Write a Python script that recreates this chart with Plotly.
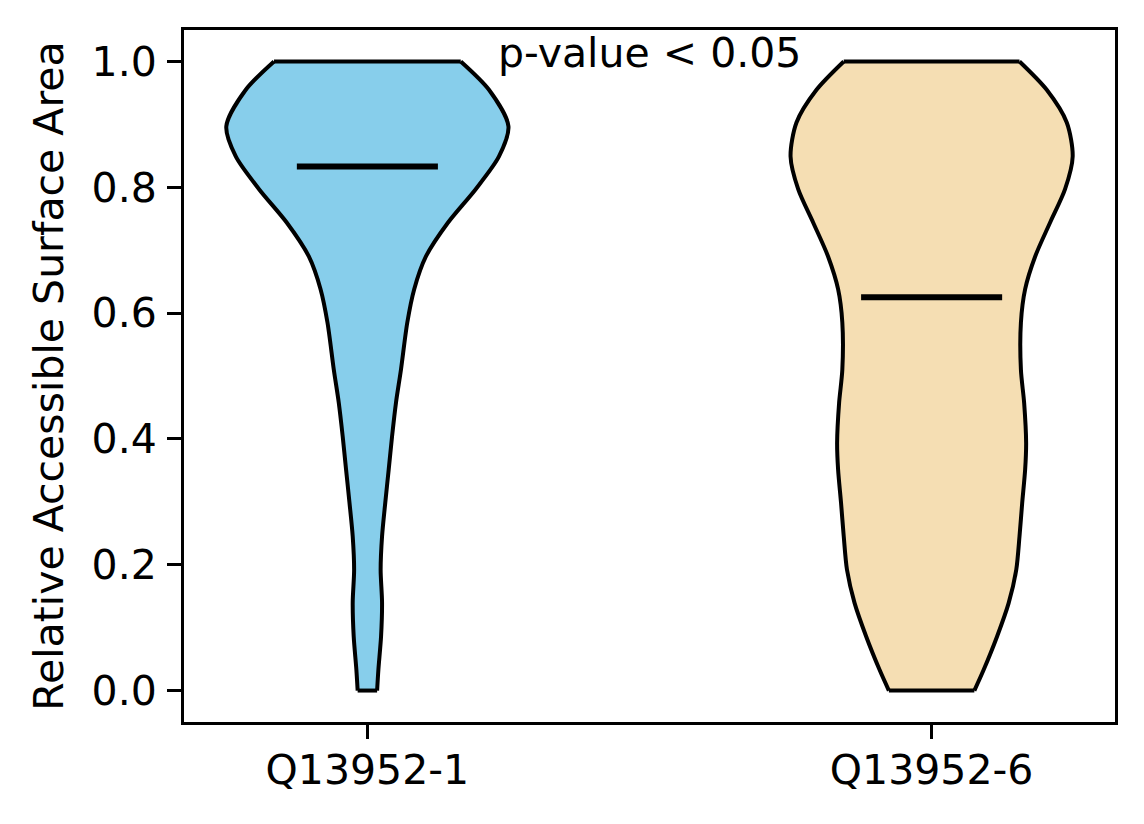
import plotly.graph_objects as go

# isoforms compared
groups = ["Q13952-1", "Q13952-6"]
colors = ["#87CEEB", "#F5DEB3"]
medians = [0.833, 0.625]

# violin outlines: RSA level and relative density (max = 1)
rsa_1 = [0.0, 0.033, 0.086, 0.140, 0.192, 0.245, 0.299, 0.351, 0.404, 0.458,
         0.510, 0.585, 0.638, 0.690, 0.744, 0.797, 0.849, 0.897, 0.955, 1.0]
dens_1 = [0.069, 0.078, 0.097, 0.104, 0.094, 0.104, 0.127, 0.151, 0.175, 0.203,
          0.238, 0.283, 0.332, 0.415, 0.572, 0.768, 0.933, 1.0, 0.862, 0.662]

rsa_2 = [0.0, 0.033, 0.086, 0.139, 0.192, 0.245, 0.298, 0.351, 0.394, 0.457,
         0.510, 0.585, 0.638, 0.690, 0.744, 0.797, 0.849, 0.903, 0.955, 1.0]
dens_2 = [0.303, 0.369, 0.464, 0.546, 0.600, 0.623, 0.642, 0.663, 0.670, 0.656,
          0.633, 0.633, 0.663, 0.734, 0.840, 0.946, 1.0, 0.958, 0.816, 0.623]

p_text = "p-value < 0.05"

FONT = "DejaVu Sans"
half_width = 0.25  # matplotlib violin width 0.5

fig = go.Figure()

for i, (rsa, dens) in enumerate([(rsa_1, dens_1), (rsa_2, dens_2)]):
    pos = i + 1
    right = [pos + half_width * d for d in dens]
    left = [pos - half_width * d for d in dens]
    # body fill
    fig.add_trace(go.Scatter(
        x=right + left[::-1], y=rsa + rsa[::-1], mode="lines", fill="toself",
        fillcolor=colors[i], line=dict(width=0), hoverinfo="skip", showlegend=False))
    # smooth sides
    for side in (right, left):
        fig.add_trace(go.Scatter(
            x=side, y=rsa, mode="lines",
            line=dict(color="black", width=4, shape="spline", smoothing=0.8),
            hoverinfo="skip", showlegend=False))
    # flat ends at min and max
    for k in (0, -1):
        fig.add_trace(go.Scatter(
            x=[left[k], right[k]], y=[rsa[k], rsa[k]], mode="lines",
            line=dict(color="black", width=4), hoverinfo="skip", showlegend=False))
    fig.add_trace(go.Scatter(
        x=[pos - half_width / 2, pos + half_width / 2], y=[medians[i], medians[i]],
        mode="lines", line=dict(color="black", width=6), showlegend=False))

fig.add_annotation(x=1.5, y=1.013, text=p_text, showarrow=False,
                   xanchor="center", yanchor="middle",
                   font=dict(family=FONT, size=41, color="black"))

axis_common = dict(showline=True, linecolor="black", linewidth=3, mirror=True,
                   ticks="outside", ticklen=14, tickwidth=3, tickcolor="black",
                   showgrid=False, zeroline=False,
                   tickfont=dict(family=FONT, size=41, color="black"))

fig.update_xaxes(range=[0.675, 2.325], tickvals=[1, 2], ticktext=groups,
                 ticklabelstandoff=-4, **axis_common)
fig.update_yaxes(range=[-0.05, 1.05], tickvals=[0, 0.2, 0.4, 0.6, 0.8, 1.0],
                 tickformat=".1f", ticklabelstandoff=2,
                 title=dict(text="Relative Accessible Surface Area", standoff=16,
                            font=dict(family=FONT, size=41, color="black")),
                 **axis_common)

fig.update_layout(width=1136, height=816, plot_bgcolor="white", paper_bgcolor="white",
                  margin=dict(l=176, r=29, t=22, b=102),
                  font=dict(family=FONT, size=41, color="black"))

fig.write_html("out.html")
